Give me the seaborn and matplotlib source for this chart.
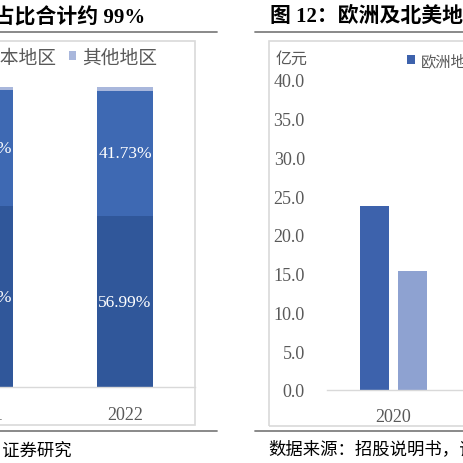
import matplotlib
matplotlib.use("Agg")
import matplotlib.pyplot as plt
import seaborn as sns
import pandas as pd
from matplotlib.lines import Line2D
from matplotlib.patches import Rectangle, Patch

# ---------------- data ----------------
left_years = ["2021", "2022"]
left_series = ["中国地区", "日本地区", "其他地区"]
left_lower = [60.31, 56.99]
left_upper = [38.62, 41.73]
left_other = [1.07, 1.28]

right_years = ["2020"]
right_series = ["欧洲地区", "北美地区"]
right_europe = [23.8]
right_namerica = [15.3]
right_yticks = [0, 5, 10, 15, 20, 25, 30, 35, 40]

left_title = "地区占比合计约 99%"
right_title = "图 12：欧洲及北美地区收入"
left_source = "数据来源：招股说明书，证券研究"
right_source = "数据来源：招股说明书，证券研究"
unit_label = "亿元"

# ---------------- style ----------------
sns.set_theme(style="white")
plt.rcParams["font.family"] = ["Liberation Serif", "Noto Sans CJK SC"]

C_DARK = "#30579A"
C_MID = "#3E69B3"
C_LIGHT = "#A9B7DC"
C_R1 = "#3D62AC"
C_R2 = "#8EA2D1"
GRAY = "#595959"
BORDER = "#D9D9D9"
RULE = "#808080"

W = H = 464
fig = plt.figure(figsize=(W / 100, H / 100), dpi=100)


def fx(px):
    return px / W


def fy(py):
    return 1 - py / H


# ---------------- left chart (stacked 100%) ----------------
ax1 = fig.add_axes([fx(-85), fy(388), 280 / W, 300 / H])
ax1.patch.set_alpha(0)
df_l = pd.DataFrame({
    "year": left_years,
    "lower": left_lower,
    "upper": left_upper,
    "other": left_other,
})
df_l["total"] = df_l["lower"] + df_l["upper"] + df_l["other"]
df_l["mid"] = df_l["lower"] + df_l["upper"]
sns.barplot(data=df_l, x="year", y="total", color=C_LIGHT, width=0.4,
            saturation=1, ax=ax1, linewidth=0)
sns.barplot(data=df_l, x="year", y="mid", color=C_MID, width=0.4,
            saturation=1, ax=ax1, linewidth=0)
sns.barplot(data=df_l, x="year", y="lower", color=C_DARK, width=0.4,
            saturation=1, ax=ax1, linewidth=0)
for i, row in df_l.iterrows():
    ax1.text(i, row["lower"] / 2, f"{row['lower']:.2f}%", ha="center",
             va="center", color="white", fontsize=12.5)
    ax1.text(i, row["lower"] + row["upper"] / 2, f"{row['upper']:.2f}%",
             ha="center", va="center", color="white", fontsize=12.5)
ax1.set_xlim(-0.5, 1.5)
ax1.set_ylim(0, 100)
ax1.set_yticks([])
ax1.set_xlabel("")
ax1.set_ylabel("")
ax1.tick_params(axis="x", length=0, pad=14, labelsize=13, labelcolor=GRAY)
sns.despine(ax=ax1, left=True)
ax1.spines["bottom"].set_color(BORDER)
ax1.spines["bottom"].set_linewidth(1.0)

leg_handles_l = [Patch(facecolor=c, edgecolor="none") for c in (C_DARK, C_MID, C_LIGHT)]
fs_l = 13.5 * 100 / 72
fig.legend(leg_handles_l, left_series, loc="center left",
           bbox_to_anchor=(fx(-131), fy(59)), ncol=3, frameon=False,
           fontsize=13.5, labelcolor=GRAY, handlelength=7 / fs_l,
           handleheight=7 / fs_l, handletextpad=6 / fs_l,
           columnspacing=12 / fs_l, borderpad=0, borderaxespad=0)

# ---------------- right chart (grouped) ----------------
ax2 = fig.add_axes([fx(327), fy(391), 399 / W, 310 / H])
ax2.patch.set_alpha(0)
df_r = pd.DataFrame({
    "year": right_years * 2,
    "region": [right_series[0]] * len(right_years) + [right_series[1]] * len(right_years),
    "value": right_europe + right_namerica,
})
sns.barplot(data=df_r, x="year", y="value", hue="region",
            palette=[C_R1, C_R2], width=0.57, gap=0.24, saturation=1,
            ax=ax2, legend=False, linewidth=0)
ax2.set_xlim(-0.5, 2.5)
ax2.set_ylim(0, 40)
ax2.set_yticks(right_yticks)
ax2.set_yticklabels([f"{v:.1f}" for v in right_yticks])
ax2.set_xlabel("")
ax2.set_ylabel("")
ax2.tick_params(axis="y", length=0, pad=16, labelsize=13, labelcolor=GRAY)
ax2.tick_params(axis="x", length=0, pad=13, labelsize=13, labelcolor=GRAY)
sns.despine(ax=ax2, left=True)
ax2.spines["bottom"].set_color(BORDER)
ax2.spines["bottom"].set_linewidth(1.0)

fs_r = 11 * 100 / 72
leg_handles_r = [Patch(facecolor=c, edgecolor="none") for c in (C_R1, C_R2)]
fig.legend(leg_handles_r, right_series, loc="center left",
           bbox_to_anchor=(fx(407), fy(62)), ncol=2, frameon=False,
           fontsize=11, labelcolor=GRAY, handlelength=8 / fs_r,
           handleheight=8 / fs_r, handletextpad=6 / fs_r,
           columnspacing=12 / fs_r, borderpad=0, borderaxespad=0)

fig.text(fx(276), fy(60), unit_label, ha="left", va="center",
         fontsize=11.5, color=GRAY)

# ---------------- frames, rules, titles, sources ----------------
fig.add_artist(Rectangle((fx(-10), fy(426)), 205 / W, 384 / H,
                         transform=fig.transFigure, fill=False,
                         edgecolor=BORDER, linewidth=1.2))
fig.add_artist(Rectangle((fx(269), fy(427)), 230 / W, 385 / H,
                         transform=fig.transFigure, fill=False,
                         edgecolor=BORDER, linewidth=1.2))
for y in (33, 432):
    fig.add_artist(Line2D([fx(0), fx(217)], [fy(y), fy(y)], color=RULE, lw=1.3))
    fig.add_artist(Line2D([fx(255), fx(464)], [fy(y), fy(y)], color=RULE, lw=1.3))

fig.text(fx(145), fy(18), left_title, ha="right", va="center",
         fontsize=15, fontweight="bold", color="black")
fig.text(fx(270), fy(17), right_title, ha="left", va="center",
         fontsize=15, fontweight="bold", color="black")
fig.text(fx(72), fy(451), left_source, ha="right", va="center",
         fontsize=12.5, color="black")
fig.text(fx(268), fy(450), right_source, ha="left", va="center",
         fontsize=12.5, color="black")

fig.savefig("out.png", dpi=100)
